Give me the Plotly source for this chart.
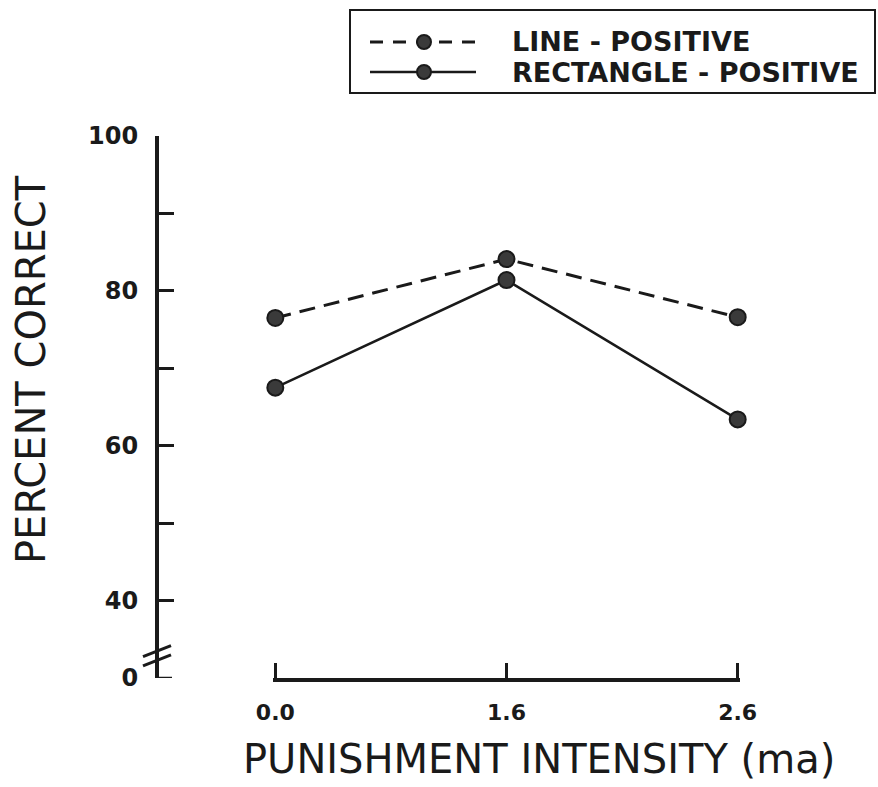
import plotly.graph_objects as go

# Punishment intensity conditions (mA) and percent-correct scores
intensity = ["0.0", "1.6", "2.6"]
line_positive = [76.5, 84.1, 76.6]
rectangle_positive = [67.5, 81.4, 63.4]
series_names = ["LINE - POSITIVE", "RECTANGLE - POSITIVE"]

# Broken y axis: the "0" tick sits just below the 40 tick
axis_zero_pos = 30
y_tickvals = [30, 40, 50, 60, 70, 80, 90, 100]
y_ticktext = ["0", "40", "", "60", "", "80", "", "100"]

INK = "#1a1a1a"
DOT = "#3a3a3a"
DASH = "16px,9px"
MARKER = dict(size=16, color=DOT, line=dict(color=INK, width=2))

W, H = 878, 787
left, right, top, bottom = 157, 138, 136, 109
plot_w = W - left - right
plot_h = H - top - bottom


def px_x(px):
    """Page pixel column -> paper x."""
    return (px - left) / plot_w


def px_y(py):
    """Page pixel row -> paper y."""
    return (H - bottom - py) / plot_h


fig = go.Figure()
fig.add_trace(go.Scatter(
    x=intensity, y=line_positive, name=series_names[0],
    mode="lines+markers", cliponaxis=False,
    line=dict(color=INK, width=3, dash=DASH), marker=MARKER,
))
fig.add_trace(go.Scatter(
    x=intensity, y=rectangle_positive, name=series_names[1],
    mode="lines+markers", cliponaxis=False,
    line=dict(color=INK, width=2.5), marker=MARKER,
))

# Small padding on the x range keeps the end ticks visible next to the y axis line
x_pad = 0.01

fig.update_layout(
    width=W, height=H,
    margin=dict(l=left, r=right, t=top, b=bottom, pad=0),
    paper_bgcolor="white", plot_bgcolor="white",
    showlegend=False,
    xaxis=dict(
        type="category", range=[-x_pad, len(intensity) - 1 + x_pad],
        domain=[px_x(273), 1],
        showgrid=False, zeroline=False,
        showline=True, linecolor=INK, linewidth=4,
        ticks="inside", ticklen=15, tickwidth=2.5, tickcolor=INK,
        tickfont=dict(family="DejaVu Sans", size=22, color=INK, weight="bold"),
        ticklabelstandoff=12,
        anchor="y",
    ),
    yaxis=dict(
        range=[axis_zero_pos, 100],
        anchor="free", position=0,
        showgrid=False, zeroline=False,
        showline=True, linecolor=INK, linewidth=4,
        ticks="inside", ticklen=15, tickwidth=2.5, tickcolor=INK,
        tickvals=y_tickvals, ticktext=y_ticktext,
        tickfont=dict(family="DejaVu Sans", size=24, color=INK, weight="bold"),
        ticklabelstandoff=12,
    ),
)

# Tick mark at the broken axis' zero (shares its row with the x axis line)
fig.add_shape(
    type="line", xref="paper", yref="y",
    xsizemode="pixel", xanchor=0, x0=0, x1=15,
    y0=axis_zero_pos, y1=axis_zero_pos,
    line=dict(color=INK, width=2.5),
)

# Axis-break slashes across the y axis
for anchor in (33.4, 32.2):
    fig.add_shape(
        type="line", xref="paper", yref="y",
        xsizemode="pixel", ysizemode="pixel",
        xanchor=0, yanchor=anchor,
        x0=-14, x1=14, y0=-5, y1=6,
        line=dict(color=INK, width=3),
    )

# Legend box with long line samples
fig.add_shape(
    type="rect", xref="paper", yref="paper",
    x0=px_x(350), x1=px_x(875), y0=px_y(93), y1=px_y(10),
    line=dict(color=INK, width=2), fillcolor="white",
)
legend_rows = [(42, "13px,10px", 3), (72, "solid", 2.5)]
for name, (row, dash, width) in zip(series_names, legend_rows):
    fig.add_shape(
        type="line", xref="paper", yref="paper",
        x0=px_x(370), x1=px_x(476), y0=px_y(row), y1=px_y(row),
        line=dict(color=INK, width=width, dash=dash),
    )
    fig.add_shape(
        type="circle", xref="paper", yref="paper",
        xsizemode="pixel", ysizemode="pixel",
        xanchor=px_x(424), yanchor=px_y(row),
        x0=-7, x1=7, y0=-7, y1=7,
        line=dict(color=INK, width=2), fillcolor=DOT,
    )
    fig.add_annotation(
        text=name, showarrow=False, xref="paper", yref="paper",
        x=px_x(510), y=px_y(row), xanchor="left", yanchor="middle",
        font=dict(family="DejaVu Sans", size=27, color=INK, weight="bold"),
    )

# Axis titles
fig.add_annotation(
    text="PERCENT CORRECT", textangle=-90, showarrow=False,
    xref="paper", yref="paper",
    x=px_x(31), y=px_y(370),
    xanchor="center", yanchor="middle",
    font=dict(family="DejaVu Sans", size=40, color=INK),
)
fig.add_annotation(
    text="PUNISHMENT INTENSITY (ma)", showarrow=False,
    xref="paper", yref="paper",
    x=px_x(539), y=px_y(759),
    xanchor="center", yanchor="middle",
    font=dict(family="DejaVu Sans", size=40, color=INK),
)

fig.write_html("out.html")
